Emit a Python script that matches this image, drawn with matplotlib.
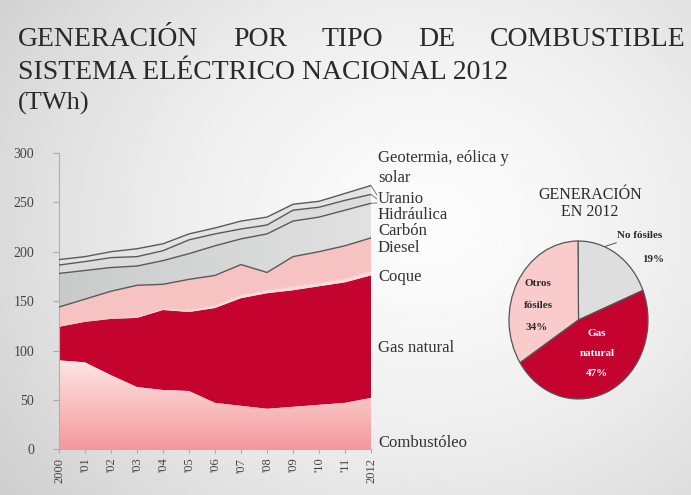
import numpy as np
import matplotlib
matplotlib.use("Agg")
import matplotlib.pyplot as plt
from matplotlib.colors import LinearSegmentedColormap

plt.rcParams["font.family"] = ["Liberation Serif", "DejaVu Serif"]

# --- data (TWh) ---
years = [2000, 2001, 2002, 2003, 2004, 2005, 2006, 2007, 2008, 2009, 2010, 2011, 2012]
year_labels = ["2000", "'01", "'02", "'03", "'04", "'05", "'06", "'07", "'08", "'09", "'10", "'11", "2012"]
combustoleo = [90, 88, 75, 63, 60, 59, 47, 44, 41, 43, 45, 47, 52]
gas_natural = [34, 41, 57, 70, 81, 80, 96, 109, 117, 118, 120, 122, 124]
coque = [0, 0, 0, 0.5, 1, 1.5, 2, 2.5, 2.5, 3, 3, 3, 3.5]
diesel = [1, 1, 1.5, 1.5, 1, 1, 1, 1, 1, 1, 1, 1, 1]
carbon = [19, 22, 26.5, 31, 24, 30.5, 30, 30.5, 17.5, 30, 31, 33, 33.5]
hidraulica = [34, 29, 24, 19.5, 24, 26, 30, 26, 39, 36, 35, 36, 35]
uranio = [8.5, 9, 10, 9.5, 10, 14, 12, 10, 9, 11, 10, 10, 9]
geotermia = [5.5, 5, 6, 8, 7, 6, 6, 8, 8, 6, 6, 7, 9]

series_names = ["Combustóleo", "Gas natural", "Coque", "Diesel", "Carbón",
                "Hidráulica", "Uranio", "Geotermia, eólica y", "solar"]

title_words = ["GENERACIÓN", "POR", "TIPO", "DE", "COMBUSTIBLE"]
pie_shares = [19, 34, 47]

RED = "#c4032f"
LINE = "#5a5a5a"
W, H = 691, 495


def fx(px):
    return px / W


def fy(py):
    return 1 - py / H


fig = plt.figure(figsize=(6.91, 4.95), dpi=100)

# slide background: soft light-grey gradient
bg = fig.add_axes([0, 0, 1, 1], zorder=-10)
gx, gy = np.meshgrid(np.linspace(0, 1, 300), np.linspace(0, 1, 220))
dist = np.sqrt(((gx - 0.62) / 0.75) ** 2 + ((gy - 0.45) / 0.9) ** 2)
shade = np.clip(0.985 - 0.17 * dist ** 1.6, 0.80, 0.985)
bg.imshow(shade, cmap="gray", vmin=0, vmax=1, extent=[0, 1, 0, 1], aspect="auto")
bg.set_axis_off()

# titles: first line justified between x=18 and x=686
tcol = "#2a2a2a"
renderer = fig.canvas.get_renderer()
word_txt = [fig.text(0, fy(46), w, fontsize=20, color=tcol, va="baseline") for w in title_words]
widths = [t.get_window_extent(renderer).width for t in word_txt]
gap = (686 - 18 - sum(widths)) / (len(widths) - 1)
x = 18
for t, wd in zip(word_txt, widths):
    t.set_x(fx(x))
    x += wd + gap
fig.text(fx(18), fy(79), "SISTEMA ELÉCTRICO NACIONAL 2012", fontsize=20, color=tcol, va="baseline")
fig.text(fx(18), fy(110), "(TWh)", fontsize=19, color=tcol, va="baseline")

# --- stacked area chart ---
ax = fig.add_axes([fx(59), fy(449.3), 312 / W, 296.4 / H])
ax.patch.set_alpha(0)
layers = [combustoleo, gas_natural, coque, diesel, carbon, hidraulica, uranio, geotermia]
colors = ["#fbd2d2", RED, "#fbdcdc", "#f6c3c3", "#f7c2c2", "#d6d6d6", "#dcdcdc", "#e4e4e4"]
polys = ax.stackplot(years, *layers, colors=colors, linewidth=0)

# gradient fills (pink for fuel oil, grey for hydro)
pink = LinearSegmentedColormap.from_list("pk", ["#f4999c", "#fde6e6"])
grey = LinearSegmentedColormap.from_list("gr", ["#c9caca", "#e2e2e2"])
grad = np.linspace(0, 1, 256).reshape(-1, 1)
im = ax.imshow(grad, cmap=pink, origin="lower", aspect="auto",
               extent=[2000, 2012, 0, max(combustoleo)], zorder=2)
im.set_clip_path(polys[0].get_paths()[0], ax.transData)
im2 = ax.imshow(np.tile(np.linspace(0, 1, 256), (2, 1)), cmap=grey, origin="lower", aspect="auto",
                extent=[2000, 2012, 140, 260], zorder=2)
im2.set_clip_path(polys[5].get_paths()[0], ax.transData)

cum = np.cumsum(np.array(layers, dtype=float), axis=0)
for k in [4, 5, 6, 7]:
    ax.plot(years, cum[k], color=LINE, lw=1.0, zorder=3)

# short leader strokes from the top series to their labels
for k, ly in zip([5, 6, 7], [203, 199, 195]):
    ax.annotate("", xy=(2012, cum[k][-1]), xytext=(fx(377), fy(ly)),
                textcoords="figure fraction", annotation_clip=False,
                arrowprops=dict(arrowstyle="-", color="#777777", lw=0.7, shrinkA=0, shrinkB=0))

ax.set_xlim(2000, 2012)
ax.set_ylim(0, 300)
ax.set_yticks(range(0, 301, 50))
ax.set_xticks(years)
ax.set_xticklabels(year_labels, rotation=90, fontsize=9, color="#444444")
ax.tick_params(axis="y", labelsize=10, colors="#444444", length=4, color="#aaaaaa", pad=14)
ax.tick_params(axis="x", length=3, color="#aaaaaa", pad=3)
for s in ["top", "right"]:
    ax.spines[s].set_visible(False)
for s in ["left", "bottom"]:
    ax.spines[s].set_color("#b0b0b0")
    ax.spines[s].set_linewidth(0.8)

# series labels to the right of the area
lab_y = [443, 348, 277, 248, 231, 215, 199, 158, 178]
for name, yy in zip(series_names, lab_y):
    fig.text(fx(378), fy(yy), name, fontsize=12, color="#333333", va="center")

# --- pie chart ---
pax = fig.add_axes([fx(509), fy(399), 139 / W, 158 / H])
wedges, _ = pax.pie(pie_shares, startangle=22, counterclock=True,
                    colors=["#dedede", "#f9cbcb", RED],
                    wedgeprops=dict(edgecolor="#555555", linewidth=0.9))
pax.set_aspect("auto")
pax.set_xlim(-1.0, 1.0)
pax.set_ylim(-1.0, 1.0)

pk = dict(fontsize=8, fontweight="bold", ha="center", va="center")
fig.text(fx(538), fy(283), "Otros", color=tcol, **pk)
fig.text(fx(538), fy(306), "fósiles", color=tcol, **pk)
fig.text(fx(537), fy(327), "34%", color=tcol, **pk)
fig.text(fx(597), fy(333), "Gas", color="white", **pk)
fig.text(fx(597), fy(353), "natural", color="white", **pk)
fig.text(fx(597), fy(374), "47%", color="white", **pk)
pax.annotate("No fósiles", xy=(0.38, 0.93), xytext=(fx(617), fy(235)),
             textcoords="figure fraction", fontsize=8, fontweight="bold",
             color=tcol, ha="left", va="center", annotation_clip=False,
             arrowprops=dict(arrowstyle="-", color="#555555", lw=0.7, shrinkA=1, shrinkB=0))
fig.text(fx(653), fy(259), "19%", color=tcol, **pk)

fig.text(fx(590), fy(195), "GENERACIÓN", fontsize=11.5, color=tcol, ha="center", va="center")
fig.text(fx(590), fy(212), "EN 2012", fontsize=11.5, color=tcol, ha="center", va="center")

fig.savefig("out.png", dpi=100)
